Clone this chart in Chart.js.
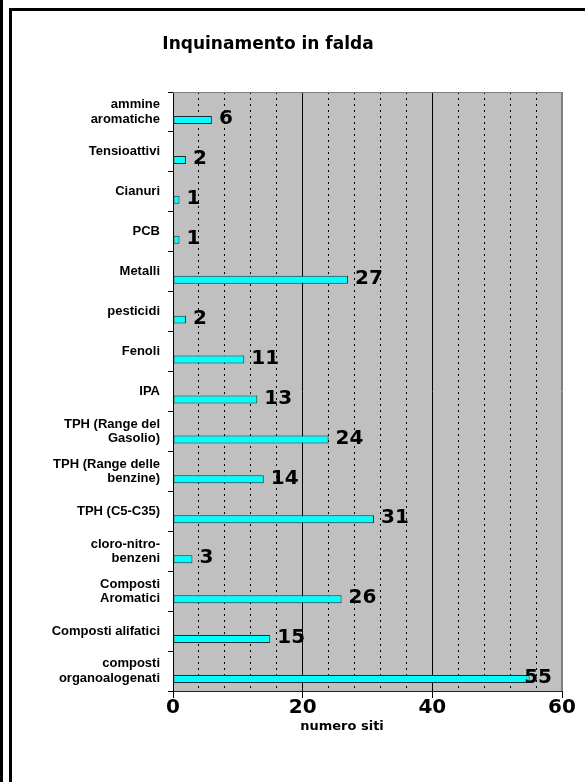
<!DOCTYPE html>
<html>
<head>
<meta charset="utf-8">
<script src="https://cdn.jsdelivr.net/npm/chart.js@4/dist/chart.umd.min.js"></script>
<style>
  html, body { margin: 0; padding: 0; background: #fff; }
  #wrap { position: relative; width: 585px; height: 782px; overflow: hidden; }
  #c { position: absolute; left: 0; top: 0; }
  .rule { position: absolute; background: #000; }
</style>
</head>
<body>
<div id="wrap">
  <canvas id="c" width="585" height="782"></canvas>
  <div class="rule" style="left:0;top:0;width:3px;height:782px"></div>
  <div class="rule" style="left:9px;top:8px;width:3px;height:774px"></div>
  <div class="rule" style="left:9px;top:8px;width:576px;height:3px"></div>
</div>
<script>
// Contaminanti rilevati in falda e numero di siti interessati
const categorie = [
  ['ammine', 'aromatiche'],
  'Tensioattivi',
  'Cianuri',
  'PCB',
  'Metalli',
  'pesticidi',
  'Fenoli',
  'IPA',
  ['TPH (Range del', 'Gasolio)'],
  ['TPH (Range delle', 'benzine)'],
  'TPH (C5-C35)',
  ['cloro-nitro-', 'benzeni'],
  ['Composti', 'Aromatici'],
  'Composti alifatici',
  ['composti', 'organoalogenati']
];
const numeroSiti = [6, 2, 1, 1, 27, 2, 11, 13, 24, 14, 31, 3, 26, 15, 55];
const tickPrincipali = [0, 20, 40, 60];
const titolo = 'Inquinamento in falda';
const titoloAsse = 'numero siti';

const FONT_NUM = '"DejaVu Sans", Verdana, sans-serif';
const FONT_CAT = '"Liberation Sans", Arial, sans-serif';

// gray plot background plus thin gray frame on top and right
const sfondoArea = {
  id: 'sfondoArea',
  beforeDraw(chart) {
    const { ctx, chartArea: a } = chart;
    ctx.save();
    ctx.fillStyle = '#C0C0C0';
    ctx.fillRect(a.left, a.top, a.right - a.left, a.bottom - a.top);
    ctx.restore();
  },
  beforeDatasetsDraw(chart) {
    const { ctx, chartArea: a } = chart;
    ctx.save();
    ctx.strokeStyle = '#808080';
    ctx.lineWidth = 1;
    ctx.beginPath();
    ctx.moveTo(a.left, a.top + 0.5);
    ctx.lineTo(a.right - 0.5, a.top + 0.5);
    ctx.lineTo(a.right - 0.5, a.bottom);
    ctx.stroke();
    ctx.restore();
  }
};

// chart title and value-axis caption
const testiGrafico = {
  id: 'testiGrafico',
  afterDraw(chart) {
    const { ctx } = chart;
    ctx.save();
    ctx.fillStyle = '#000';
    ctx.textAlign = 'center';
    ctx.textBaseline = 'middle';
    ctx.font = 'bold 17px ' + FONT_NUM;
    ctx.fillText(titolo, 268, 45);
    ctx.font = 'bold 13px ' + FONT_NUM;
    ctx.fillText(titoloAsse, 342, 727);
    ctx.restore();
  }
};

// value written to the right of each bar, kept inside the plot
const etichetteValori = {
  id: 'etichetteValori',
  afterDatasetsDraw(chart) {
    const { ctx, chartArea: a } = chart;
    const meta = chart.getDatasetMeta(1);
    ctx.save();
    ctx.font = 'bold 20px ' + FONT_NUM;
    ctx.fillStyle = '#000';
    ctx.textAlign = 'left';
    ctx.textBaseline = 'middle';
    meta.data.forEach((bar, i) => {
      const testo = String(numeroSiti[i]);
      const w = ctx.measureText(testo).width;
      let x = bar.x + 7;
      if (x + w > a.right - 10) x = a.right - 10 - w;
      ctx.fillText(testo, x, bar.y - 1);
    });
    ctx.restore();
  }
};

new Chart(document.getElementById('c'), {
  type: 'bar',
  data: {
    labels: categorie,
    datasets: [
      {
        // empty first slot keeps the real bar in the lower half of each row
        label: 'spazio',
        data: categorie.map(() => null),
        categoryPercentage: 0.8,
        barPercentage: 0.5
      },
      {
        label: titoloAsse,
        data: numeroSiti,
        backgroundColor: '#00FFFF',
        borderColor: '#1E2E2E',
        borderWidth: 1,
        borderSkipped: false,
        categoryPercentage: 0.8,
        barPercentage: 0.5
      }
    ]
  },
  options: {
    indexAxis: 'y',
    responsive: false,
    animation: false,
    layout: { padding: { left: 10, right: 23, top: 92, bottom: 0 } },
    plugins: {
      legend: { display: false },
      tooltip: { enabled: false },
      title: { display: false }
    },
    scales: {
      x: {
        type: 'linear',
        min: 0,
        max: 60,
        afterFit(scale) {
          scale.height = 91;
          scale.paddingLeft = 0;
          scale.paddingRight = 0;
        },
        ticks: {
          stepSize: 4,
          autoSkip: false,
          maxRotation: 0,
          padding: 0,
          color: '#000',
          font: { family: FONT_NUM, size: 20, weight: 'bold', lineHeight: 1 },
          callback: (v) => tickPrincipali.includes(v) ? String(v) : ''
        },
        grid: {
          color: (c) => (c.tick && c.tick.value === 60) ? '#808080' : '#000',
          lineWidth: 1,
          drawTicks: true,
          tickLength: 7,
          tickColor: (c) => (c.tick && tickPrincipali.includes(c.tick.value)) ? '#000' : 'rgba(0,0,0,0)'
        },
        border: {
          color: '#222',
          width: 1,
          dash: (c) => (c.tick && !tickPrincipali.includes(c.tick.value)) ? [2, 4] : []
        }
      },
      y: {
        type: 'category',
        offset: true,
        afterFit(scale) {
          scale.width = 163;
          scale.paddingTop = 0;
          scale.paddingBottom = 0;
        },
        ticks: {
          padding: 8,
          color: '#000',
          autoSkip: false,
          font: { family: FONT_CAT, size: 13, weight: 'bold', lineHeight: 1.1 }
        },
        grid: {
          offset: true,
          drawOnChartArea: false,
          drawTicks: true,
          tickLength: 5,
          tickColor: '#000'
        },
        border: { color: '#000', width: 1 }
      }
    }
  },
  plugins: [sfondoArea, testiGrafico, etichetteValori]
});
</script>
</body>
</html>
